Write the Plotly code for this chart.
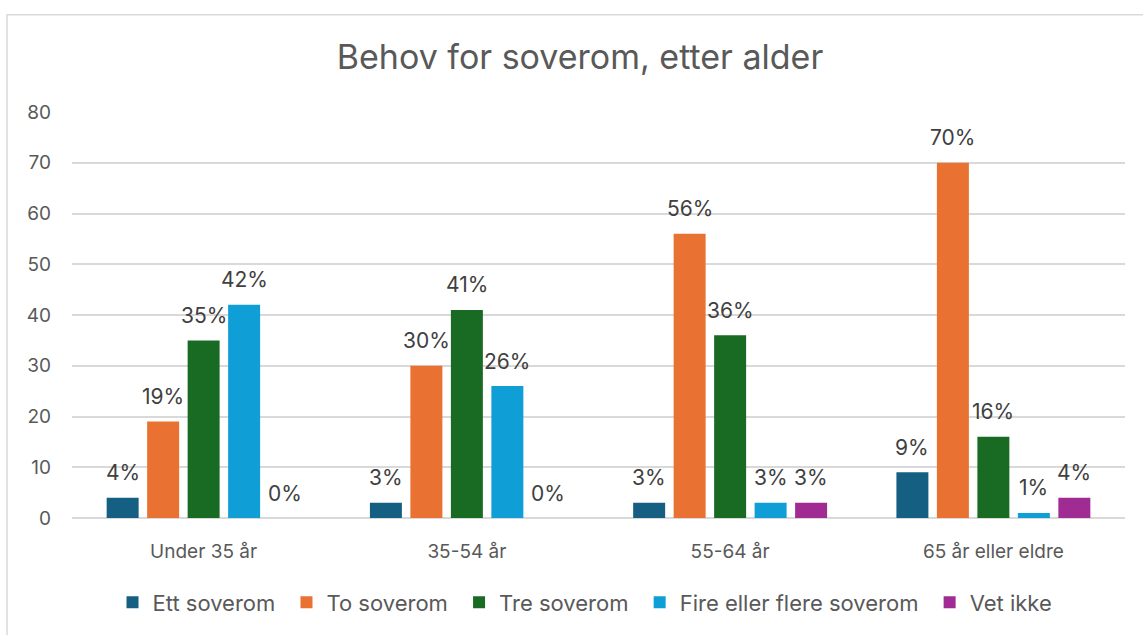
import plotly.graph_objects as go

categories = ["Under 35 år", "35-54 år", "55-64 år", "65 år eller eldre"]
series_names = ["Ett soverom", "To soverom", "Tre soverom", "Fire eller flere soverom", "Vet ikke"]
ett_soverom = [4, 3, 3, 9]
to_soverom = [19, 30, 56, 70]
tre_soverom = [35, 41, 36, 16]
fire_eller_flere = [42, 26, 3, 1]
vet_ikke = [0, 0, 3, 4]
y_ticks = [0, 10, 20, 30, 40, 50, 60, 70, 80]

colors = ["#156082", "#E97132", "#196B24", "#0F9ED5", "#A02B93"]
series_values = [ett_soverom, to_soverom, tre_soverom, fire_eller_flere, vet_ikke]

FONT = "Inter"
W, H = 1143, 635
L, R, T, B = 72, 18, 112, 114
pw, ph = W - L - R, H - T - B
BARGAP, GROUPGAP = 0.231, 0.21
n_series = len(series_names)
slot_px = (1 - BARGAP) * (pw / len(categories)) / n_series

fig = go.Figure()
annotations = []
for i, (name, vals, col) in enumerate(zip(series_names, series_values, colors)):
    # a trailing no-break space widens the gap between legend entries
    legend_name = name + ("\u00a0" if i < n_series - 1 else "")
    fig.add_trace(go.Bar(
        x=categories, y=vals, name=legend_name,
        marker=dict(color=col, line=dict(width=0)),
    ))
    # value labels placed above each bar within its group slot
    for cat, v in zip(categories, vals):
        annotations.append(dict(
            x=cat, y=v, xref="x", yref="y", text=f"{v}%", showarrow=False,
            xanchor="center", yanchor="middle",
            xshift=(i - (n_series - 1) / 2) * slot_px, yshift=25,
            font=dict(family=FONT, size=21, color="#404040"),
        ))

def px_x(p):
    return (p - L) / pw

def px_y(p):
    return (H - B - p) / ph

fig.update_layout(
    width=W, height=H,
    margin=dict(l=L, r=R, t=T, b=B),
    paper_bgcolor="white", plot_bgcolor="white",
    barmode="group", bargap=BARGAP, bargroupgap=GROUPGAP,
    title=dict(text="Behov for soverom, etter alder", x=px_x(580), xref="paper",
               xanchor="center", y=1 - 57 / H, yanchor="middle",
               font=dict(family=FONT, size=34, color="#595959")),
    font=dict(family=FONT, color="#595959"),
    showlegend=True,
    legend=dict(orientation="h", x=px_x(585), xanchor="center",
                y=px_y(606), yanchor="middle",
                font=dict(family=FONT, size=22, color="#595959"),
                itemwidth=30, traceorder="normal"),
    annotations=annotations,
    shapes=[dict(type="rect", xref="paper", yref="paper",
                 x0=px_x(7), x1=px_x(1160), y0=px_y(650), y1=px_y(14),
                 line=dict(color="#d9d9d9", width=1.5), layer="below")],
)
fig.update_yaxes(range=[0, 80], tickvals=y_ticks, showgrid=True,
                 gridcolor="#d9d9d9", gridwidth=1.5, zeroline=True,
                 zerolinecolor="#d9d9d9", zerolinewidth=1.5,
                 tickfont=dict(family=FONT, size=19, color="#595959"),
                 ticklabelstandoff=20, showline=False)
fig.update_xaxes(showgrid=False, showline=False,
                 tickfont=dict(family=FONT, size=19, color="#595959"),
                 ticklabelstandoff=20)

fig.write_html("out.html")
